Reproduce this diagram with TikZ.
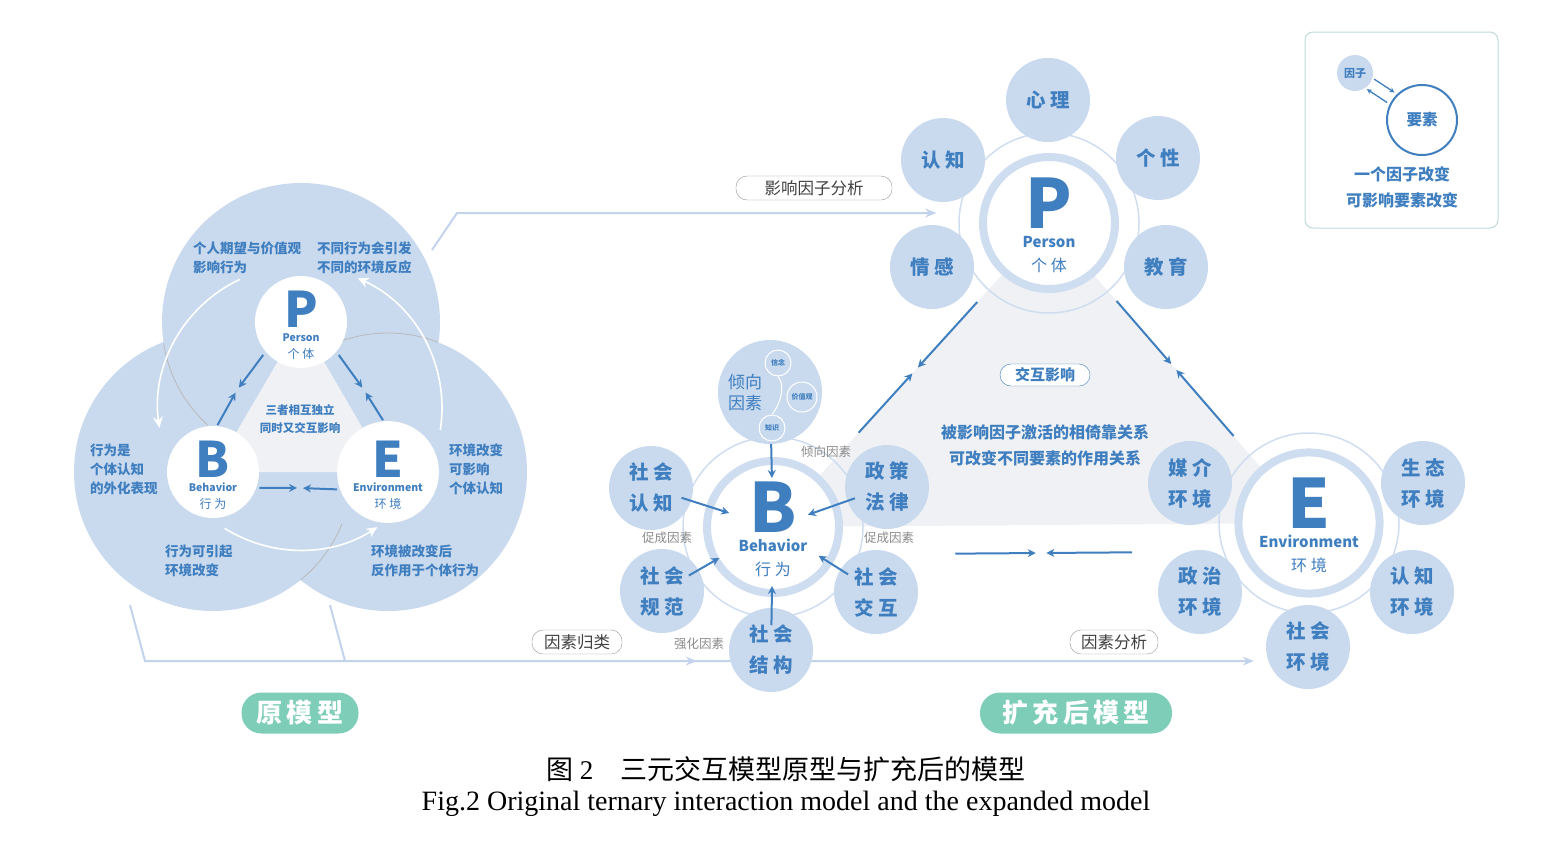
\documentclass[tikz,border=0pt]{standalone}
\usepackage{fontspec}
\setmainfont{Noto Sans CJK SC}
\newfontfamily\capfont{Liberation Serif}
\usetikzlibrary{arrows.meta,positioning,calc,backgrounds}
\definecolor{cblue}{HTML}{3F7EBF}
\definecolor{clight}{HTML}{C9DAEF}
\definecolor{cring}{HTML}{CFDDF1}
\definecolor{cline}{HTML}{C3D3EB}
\definecolor{cgreen}{HTML}{7DCDB8}
\definecolor{cgray}{HTML}{8A8A8A}
\definecolor{ctri}{HTML}{EFF1F4}
\definecolor{cbox}{HTML}{BCD9DB}
\newcommand{\fz}[2]{\fontsize{#1}{#2}\selectfont}

\begin{document}
\begin{tikzpicture}[x=1pt, y=-1pt,
  core/.style={circle, fill=white, minimum size=92pt, inner sep=0pt,
               align=center, text=cblue, font=\fz{12}{20}},
  hub/.style={circle, fill=white, draw=cring, line width=8pt,
              minimum size=132pt, inner sep=0pt, align=center, text=cblue,
              font=\fz{16}{24}},
  orbit/.style={circle, draw=cring, line width=1.5pt, minimum size=180pt,
                inner sep=0pt},
  sat/.style={circle, fill=clight, minimum size=84pt, inner sep=0pt,
              align=center, text=cblue, font=\fz{19.5}{31}\bfseries},
  dot/.style={circle, fill=clight, draw=white, line width=1pt,
              minimum size=26pt, inner sep=0pt, text=cblue,
              font=\fz{7}{8}\bfseries},
  note/.style={anchor=west, inner sep=0pt, align=left, text=cblue,
               font=\fz{13.5}{19}\bfseries},
  hint/.style={inner sep=1pt, text=cgray, font=\fz{12.5}{14}},
  pill/.style={draw=cgray!90, fill=white, rounded corners=11pt,
               minimum height=24pt, text=black!75, font=\fz{16.5}{18}},
  tag/.style={fill=cgreen, rounded corners=20pt, minimum height=41pt,
              text=white, font=\fz{26}{28}\bfseries},
  ar/.style={-{Stealth[length=8pt, width=8pt]}, draw=cblue, line width=2pt},
  flow/.style={-{Stealth[length=11pt, width=9pt]}, draw=cline, line width=2pt},
  wr/.style={-{Stealth[length=11pt, width=10pt]}, draw=white, line width=1.6pt},
]
\useasboundingbox (0,0) rectangle (1562,852);

%% ---------- original model ----------
\coordinate (lPc) at (301,322);
\coordinate (lBc) at (213,472);
\coordinate (lEc) at (388,472);
\coordinate (lmid) at (300,408);

\foreach \c in {lPc,lBc,lEc}
  \fill[clight] (\c) circle[radius=139];
\draw[gray!55, line width=0.8pt] ($(lPc)+(171:139)$)
  arc[start angle=171, end angle=132, radius=139];
\draw[gray!55, line width=0.8pt] ($(lEc)+(-113:139)$)
  arc[start angle=-113, end angle=-69, radius=139];
\draw[gray!55, line width=0.8pt] ($(lBc)+(51:139)$)
  arc[start angle=51, end angle=22, radius=139];
\fill[ctri] (lPc) -- (lBc) -- (lEc) -- cycle;

\draw[wr] ($(lmid)+(245:142)$) arc[start angle=245, end angle=172, radius=142];
\draw[wr] ($(lmid)+(9:142)$) arc[start angle=9, end angle=-66, radius=142];
\draw[wr] ($(lmid)+(122:142)$) arc[start angle=122, end angle=57, radius=142];

\node[core] (lP) at (lPc)
  {\fz{49}{20}\rule{0pt}{42pt}\textbf{P}\\[-6pt]\fz{10.5}{20}\textbf{Person}\\[-3pt]\fz{12}{20}个 体};
\node[core] (lB) at (lBc)
  {\fz{49}{20}\rule{0pt}{42pt}\textbf{B}\\[-6pt]\fz{10.5}{20}\textbf{Behavior}\\[-3pt]\fz{12}{20}行 为};
\node[core] (lE) at (lEc)
  {\fz{49}{20}\rule{0pt}{42pt}\textbf{E}\\[-6pt]\fz{10.5}{20}\textbf{Environment}\\[-3pt]\fz{12}{20}环 境};

\coordinate (mPB) at (237,390);
\coordinate (mPE) at (364,390);
\coordinate (mBE) at (300,488);
\draw[ar, shorten <=4pt, shorten >=3pt] (lP.220) -- (mPB);
\draw[ar, shorten <=1pt, shorten >=3pt] (lB.85) -- (mPB);
\draw[ar, shorten <=4pt, shorten >=3pt] (lP.320) -- (mPE);
\draw[ar, shorten <=1pt, shorten >=3pt] (lE.95) -- (mPE);
\draw[ar, shorten <=3pt, shorten >=3pt] (lB.-20) -- (mBE);
\draw[ar, shorten <=3pt, shorten >=3pt] (lE.200) -- (mBE);

\node[note] (n1) at (193,258) {个人期望与价值观\\影响行为};
\node[note] (n2) at (317,258) {不同行为会引发\\不同的环境反应};
\node[note] (n3) at (90,469) {行为是\\个体认知\\的外化表现};
\node[note] (n4) at (449,469) {环境改变\\可影响\\个体认知};
\node[note] (n5) at (165,561) {行为可引起\\环境改变};
\node[note] (n6) at (371,561) {环境被改变后\\反作用于个体行为};
\node[text=cblue, align=center, font=\fz{11.5}{18}\bfseries] (n0) at (300,419)
  {三者相互独立\\同时又交互影响};

\node[tag, minimum width=117pt] (tOrig) at (300,713) {原\,模\,型};

%% ---------- expanded model ----------
\coordinate (rPc) at (1049,223);
\coordinate (rBc) at (773,527);
\coordinate (rEc) at (1309,523);
\fill[ctri] (rPc) -- (rBc) -- (rEc) -- cycle;

\node[orbit] (rPo) at (rPc) {};
\node[orbit] (rBo) at (rBc) {};
\node[orbit] (rEo) at (rEc) {};

\node[hub] (rP) at (rPc)
  {\fz{68}{24}\rule{0pt}{56pt}\textbf{P}\\[-5pt]\fz{15}{24}\textbf{Person}\\\fz{16}{24}个 体};
\node[hub] (rB) at (rBc)
  {\fz{68}{24}\rule{0pt}{56pt}\textbf{B}\\[-5pt]\fz{15}{24}\textbf{Behavior}\\\fz{16}{24}行 为};
\node[hub] (rE) at (rEc)
  {\fz{68}{24}\rule{0pt}{56pt}\textbf{E}\\[-5pt]\fz{15}{24}\textbf{Environment}\\\fz{16}{24}环 境};

% person factors
\foreach \n/\x/\y/\t in {sXL/1048/100/心 理, sRZp/943/160/认 知,
    sGX/1158/158/个 性, sQG/932/267/情 感, sJY/1166/267/教 育}
  \node[sat] (\n) at (\x,\y) {\t};

% behaviour factors
\node[sat, minimum size=104pt] (sQX) at (770,392) {};
\node[text=cblue, align=center, font=\fz{17}{21}] (qxt) at (745,393) {倾向\\因素};
\node[dot] (xn) at (778,363) {信念};
\node[dot, minimum size=30pt] (jz) at (802,397) {价值观};
\node[dot] (zs) at (772,428) {知识};
\draw[white, line width=1pt] (xn.south) .. controls +(8,10) and +(8,-10) .. (zs.north);

\foreach \n/\x/\y/\t in {sRZ/651/488/社 会\\认 知, sZC/887/487/政 策\\法 律,
    sGF/662/591/社 会\\规 范, sJH/876/592/社 会\\交 互,
    sJG/771/650/社 会\\结 构}
  \node[sat] (\n) at (\x,\y) {\t};

\node[hint] (h1) at (826,452) {倾向因素};
\node[hint] (h2) at (667,538) {促成因素};
\node[hint] (h3) at (889,538) {促成因素};
\node[hint] (h4) at (699,644) {强化因素};

\foreach \s/\a/\b in {sQX/52pt/49pt, sRZ/32pt/46pt, sZC/34pt/37pt,
    sGF/31pt/62pt, sJH/33pt/54pt, sJG/25pt/59pt}
  \draw[ar, shorten <=\a, shorten >=\b] (\s.center) -- (rB.center);

% environment factors
\foreach \n/\x/\y/\t in {sMJ/1190/483/媒 介\\环 境, sST/1423/483/生 态\\环 境,
    sZZ/1200/592/政 治\\环 境, sRJ/1412/592/认 知\\环 境,
    sSH/1308/647/社 会\\环 境}
  \node[sat] (\n) at (\x,\y) {\t};

% interaction between the three elements
\draw[ar] ($(rP)!0.26!(rB)$) -- ($(rP)!0.475!(rB)$);
\draw[ar] ($(rB)!0.31!(rP)$) -- ($(rB)!0.505!(rP)$);
\draw[ar] ($(rP)!0.26!(rE)$) -- ($(rP)!0.47!(rE)$);
\draw[ar] ($(rE)!0.29!(rP)$) -- ($(rE)!0.51!(rP)$);
\draw[ar] ($(rB)!0.34!(rE)+(0,28)$) -- ($(rB)!0.49!(rE)+(0,28)$);
\draw[ar] ($(rE)!0.33!(rB)+(0,28)$) -- ($(rE)!0.49!(rB)+(0,28)$);

\node[pill, draw=cblue, text=cblue, font=\fz{15}{16}\bfseries,
      minimum height=22pt, minimum width=90pt] (jh) at (1045,375) {交互影响};
\node[text=cblue, align=center, font=\fz{16}{26}\bfseries] (rel) at (1045,445)
  {被影响因子激活的相倚靠关系\\可改变不同要素的作用关系};

\node[tag, minimum width=192pt] (tExp) at (1076,713) {扩\,充\,后\,模\,型};

%% ---------- legend ----------
\node[draw=cbox, line width=1pt, rounded corners=8pt, minimum width=193pt,
      minimum height=196pt] (leg) at (1401.5,130) {};
\node[circle, fill=clight, minimum size=36pt, inner sep=0pt, text=cblue,
      font=\fz{11}{12}\bfseries] (fac) at (1355,73) {因子};
\node[circle, draw=cblue, line width=2pt, minimum size=70pt, inner sep=0pt,
      text=cblue, font=\fz{15.5}{16}\bfseries] (ele) at (1422,120) {要素};
\draw[cblue, line width=1.3pt, -{Stealth[length=5pt, width=5pt]},
      shorten <=2pt, shorten >=3pt] (fac.-16) -- (ele.134);
\draw[cblue, line width=1.3pt, -{Stealth[length=5pt, width=5pt]},
      shorten <=3pt, shorten >=2pt] (ele.154) -- (fac.-56);
\node[text=cblue, align=center, font=\fz{16}{26}\bfseries] (legt) at (1402,187)
  {一个因子改变\\可影响要素改变};

%% ---------- links between the two models ----------
\coordinate (t0) at (432,250);
\coordinate (t1) at (457,213);
\coordinate (b0) at (130,605);
\coordinate (b1) at (145,661);
\coordinate (b2) at (330,605);
\coordinate (b3) at (345,661);
\begin{scope}[on background layer]
  \draw[flow, shorten >=22pt] (t0) -- (t1) -- (t1 -| rPo.west);
  \draw[flow, shorten >=12pt] (b0) -- (b1) -- (b1 -| sSH.west);
  \draw[flow, shorten >=32pt] (b1) -- (b1 -| sJG.west);
  \draw[cline, line width=2pt] (b2) -- (b3);
\end{scope}
\node[pill, minimum width=156pt] (pA) at (814,188) {影响因子分析};
\node[pill, minimum width=90pt] (pB) at (577,642) {因素归类};
\node[pill, minimum width=88pt] (pC) at (1114,642) {因素分析};

%% ---------- caption ----------
\node[font=\fz{27}{30}\mdseries] (cap1) at (786,769)
  {图 {\capfont 2}\hspace{1em}三元交互模型原型与扩充后的模型};
\node[font=\capfont\fz{28}{30}] (cap2) at (786,804)
  {Fig.2 Original ternary interaction model and the expanded model};

\end{tikzpicture}
\end{document}
